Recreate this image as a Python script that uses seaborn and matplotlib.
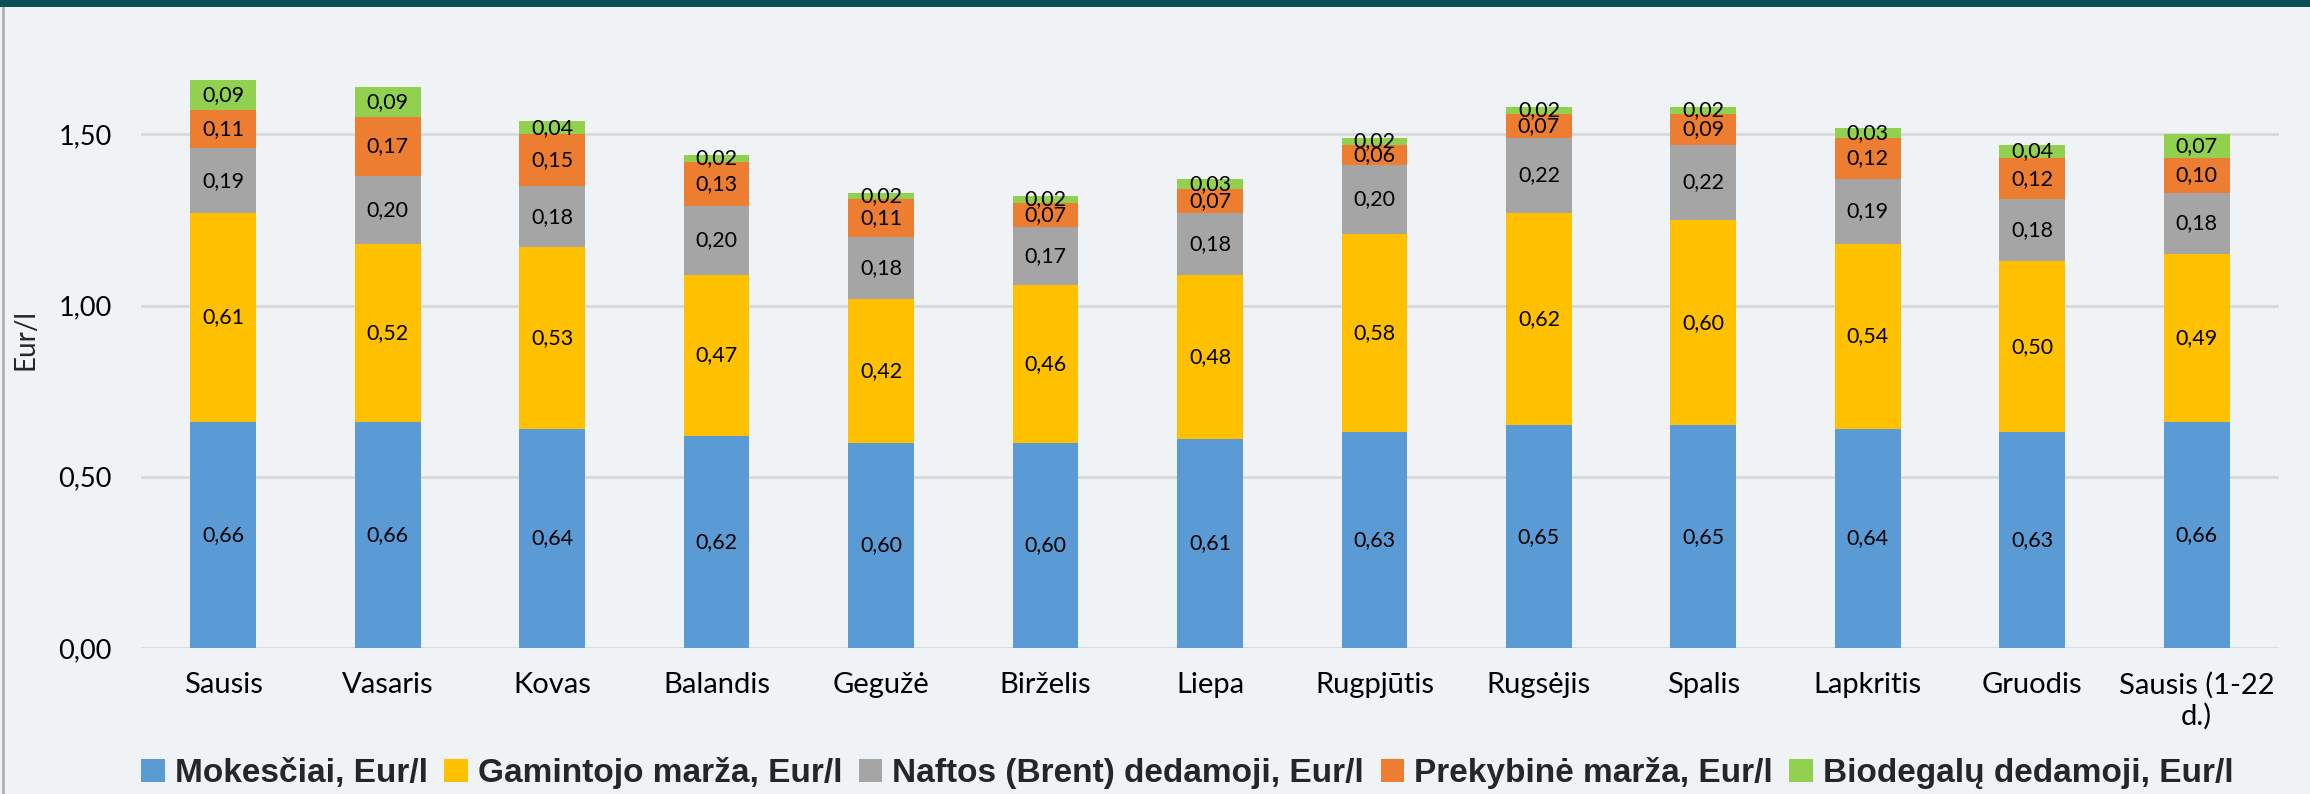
import numpy as np
import pandas as pd
import matplotlib
matplotlib.use("Agg")
import matplotlib.pyplot as plt
import seaborn as sns
from matplotlib.patches import Patch, Rectangle
from matplotlib.lines import Line2D

months = ["Sausis", "Vasaris", "Kovas", "Balandis", "Gegužė", "Birželis", "Liepa",
          "Rugpjūtis", "Rugsėjis", "Spalis", "Lapkritis", "Gruodis", "Sausis (1-22\nd.)"]
mokesciai = [0.66, 0.66, 0.64, 0.62, 0.60, 0.60, 0.61, 0.63, 0.65, 0.65, 0.64, 0.63, 0.66]
gamintojo = [0.61, 0.52, 0.53, 0.47, 0.42, 0.46, 0.48, 0.58, 0.62, 0.60, 0.54, 0.50, 0.49]
naftos = [0.19, 0.20, 0.18, 0.20, 0.18, 0.17, 0.18, 0.20, 0.22, 0.22, 0.19, 0.18, 0.18]
prekybine = [0.11, 0.17, 0.15, 0.13, 0.11, 0.07, 0.07, 0.06, 0.07, 0.09, 0.12, 0.12, 0.10]
biodegalu = [0.09, 0.09, 0.04, 0.02, 0.02, 0.02, 0.03, 0.02, 0.02, 0.02, 0.03, 0.04, 0.07]

series_names = ["Mokesčiai, Eur/l", "Gamintojo marža, Eur/l", "Naftos (Brent) dedamoji, Eur/l",
                "Prekybinė marža, Eur/l", "Biodegalų dedamoji, Eur/l"]
colors = ["#5B9BD5", "#FFC000", "#A5A5A5", "#ED7D31", "#92D050"]
bg = "#EFF3F6"

sns.set_theme(style="white")
plt.rcParams["font.family"] = ["Lato", "DejaVu Sans"]

df = pd.DataFrame({"month": months})
vals = [mokesciai, gamintojo, naftos, prekybine, biodegalu]
cum = np.cumsum(np.array(vals), axis=0)

fig = plt.figure(figsize=(23.1, 7.94), dpi=100, facecolor=bg)
ax = fig.add_axes([0.061, 0.184, 0.9256, 0.776])
ax.set_facecolor(bg)

# draw from the top segment down so each lower stack covers the rest
for i in range(len(vals) - 1, -1, -1):
    df["top"] = cum[i]
    sns.barplot(data=df, x="month", y="top", color=colors[i], width=0.4,
                saturation=1, ax=ax, zorder=3, edgecolor="none")

# labels in the middle of each segment
for i, v in enumerate(vals):
    for j, val in enumerate(v):
        mid = cum[i][j] - val / 2
        ax.text(j, mid, f"{val:.2f}".replace(".", ","), ha="center", va="center",
                fontsize=15.5, color="black", zorder=5)

ax.set_ylim(0, 1.8)
ax.set_xlim(-0.5, len(months) - 0.5)
ax.set_yticks([0, 0.5, 1.0, 1.5])
ax.set_yticklabels(["0,00", "0,50", "1,00", "1,50"])
ax.yaxis.grid(True, color="#D9D9D9", linewidth=2, zorder=0)
ax.set_axisbelow(True)
for s in ax.spines.values():
    s.set_visible(False)
ax.tick_params(axis="both", length=0, colors="black")
ax.tick_params(axis="y", pad=21, labelsize=19.5)
ax.tick_params(axis="x", pad=17, labelsize=21)
ax.set_xlabel("")
ax.set_ylabel("Eur/l", fontsize=20)
ax.yaxis.set_label_coords(-0.048, 0.5)

handles = [Patch(facecolor=c, edgecolor="none") for c in colors]
leg = fig.legend(handles, series_names, loc="center", bbox_to_anchor=(0.514, 0.026), ncol=5,
                 frameon=False, prop={"family": "Liberation Sans", "weight": "bold", "size": 24},
                 handlelength=0.7, handleheight=0.7, handletextpad=0.3, columnspacing=0.5)

# frame decorations
fig.patches.append(Rectangle((0, 0.991), 1, 0.009, transform=fig.transFigure,
                             facecolor="#0B4F57", edgecolor="none", zorder=10))
fig.lines.append(Line2D([0.0015, 0.0015], [0, 0.991], transform=fig.transFigure,
                        color="#B0B0B0", linewidth=2))

fig.savefig("out.png", dpi=100, facecolor=bg)
